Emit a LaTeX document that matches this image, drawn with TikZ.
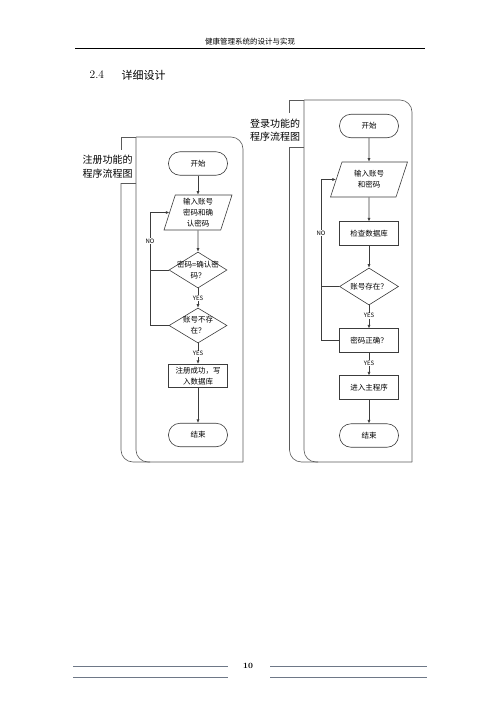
\documentclass[tikz,border=0pt]{standalone}
\usepackage{fontspec}
\newfontfamily\cjk{Noto Sans CJK SC}
\usetikzlibrary{positioning, arrows.meta, shapes.geometric}
\definecolor{inkline}{RGB}{60,60,60}
\definecolor{inkframe}{RGB}{90,90,90}
\definecolor{inkfoot}{RGB}{110,120,135}

\tikzset{
  term/.style={draw=inkline, rounded corners=11.5pt, minimum width=59pt, minimum height=23.5pt, inner sep=1pt},
  proc/.style={draw=inkline, minimum width=59pt, minimum height=23.5pt, inner sep=1pt, align=center},
  io/.style={draw=inkline, trapezium, trapezium stretches body, minimum height=35pt, inner sep=1pt, align=center},
  decide/.style={draw=inkline, diamond, minimum width=58pt, minimum height=36pt, inner sep=0pt},
  flow/.style={draw=inkline, line width=0.6pt, -{Latex[length=3.5pt,width=3pt]}},
  frame/.style={draw=inkframe, line width=0.6pt},
  yn/.style={fill=white, inner sep=0.6pt, font=\cjk\fontsize{6}{7}\selectfont},
  lane/.style={align=left, font=\cjk\fontsize{10}{13.5}\selectfont},
}

\begin{document}
\begin{tikzpicture}[x=1pt, y=-1pt, font=\cjk\fontsize{7.5}{11}\selectfont, line width=0.6pt]
  \useasboundingbox (0,0) rectangle (500,707);

  % page head
  \node (hdr) at (250,42) {\fontsize{7.5}{8}\selectfont 健康管理系统的设计与实现};
  \draw[line width=0.5pt] (75,48.5) -- (425,48.5);
  \node[anchor=west] (secnum) at (86,75) {\rmfamily\fontsize{11.5}{12}\selectfont 2.4};
  \node[anchor=west] (sectitle) at (118,75) {\fontsize{11}{12}\selectfont 详细设计};

  % 注册 lane
  \draw[frame, rounded corners=12pt] (136,137) -- (243,137) -- (243,462);
  \draw[frame, rounded corners=12pt] (136,137) -- (136,462) -- (243,462);
  \draw[frame] (136,137) -- (121,137) -- (121,150);
  \draw[frame] (136,183) -- (121,183);
  \draw[frame, rounded corners=12pt] (121,183) -- (121,462) -- (150,462);
  \node[lane] (lane1) at (107.5,166.5) {注册功能的\\程序流程图};

  \node[term] (s1) at (198,163.5) {开始};
  \node[io, trapezium left angle=70, trapezium right angle=110, minimum width=68pt] (in1) at (198,212.5) {输入账号\\密码和确\\认密码};
  \node[decide, label={[align=center]center:密码=确认密\\码？}] (d1) at (198,270) {};
  \node[decide, minimum height=35pt, label={[align=center]center:账号不存\\在？}] (d2) at (198,325.5) {};
  \node[proc] (p1) at (198,376) {注册成功，写\\入数据库};
  \node[term] (e1) at (198,435) {结束};
  \coordinate (noL) at (150,270);

  \draw[flow] (s1) -- (in1);
  \draw[flow] (in1) -- (d1);
  \draw[flow] (d1) -- node[yn]{YES} (d2);
  \draw[flow] (d2) -- node[yn]{YES} (p1);
  \draw[flow] (p1) -- (e1);
  \draw[flow] (d1.west) -- (noL) |- node[yn, pos=0.25]{NO} (in1.west);
  \draw[inkline] (d2.west) -| (noL);

  % 登录 lane
  \draw[frame, rounded corners=12pt] (304,100) -- (412,100) -- (412,462);
  \draw[frame, rounded corners=12pt] (304,100) -- (304,462) -- (412,462);
  \draw[frame] (304,100) -- (289.5,100) -- (289.5,113);
  \draw[frame] (304,147) -- (289.5,147);
  \draw[frame, rounded corners=12pt] (289.5,147) -- (289.5,462) -- (318,462);
  \node[lane] (lane2) at (275,130) {登录功能的\\程序流程图};

  \node[term] (s2) at (369,126) {开始};
  \node[io, trapezium left angle=60, trapezium right angle=120, minimum width=77pt] (in2) at (369,179.5) {输入账号\\和密码};
  \node[proc] (p2) at (369,233.5) {检查数据库};
  \node[decide, minimum width=59pt, minimum height=37pt, label={center:账号存在？}] (d3) at (369,286.5) {};
  \node[proc] (p3) at (369,340.5) {密码正确？};
  \node[proc] (p4) at (369,387.5) {进入主程序};
  \node[term] (e2) at (369,435.5) {结束};
  \coordinate (noR) at (321,286.5);

  \draw[flow] (s2) -- (in2);
  \draw[flow] (in2) -- (p2);
  \draw[flow] (p2) -- (d3);
  \draw[flow] (d3) -- node[yn, pos=0.45]{YES} (p3);
  \draw[flow] (p3) -- node[yn, pos=0.45]{YES} (p4);
  \draw[flow] (p4) -- (e2);
  \draw[flow] (d3.west) -- (noR) |- node[yn, pos=0.25]{NO} (in2.west);
  \draw[inkline] (p3.west) -| (noR);

  % page foot
  \draw[inkfoot, line width=0.8pt] (73,666) -- (228,666) (73,677) -- (228,677);
  \draw[inkfoot, line width=0.8pt] (270,666) -- (427,666) (270,677) -- (427,677);
  \node (pgno) at (248,666) {\rmfamily\bfseries\fontsize{8}{9}\selectfont 10};
\end{tikzpicture}
\end{document}
